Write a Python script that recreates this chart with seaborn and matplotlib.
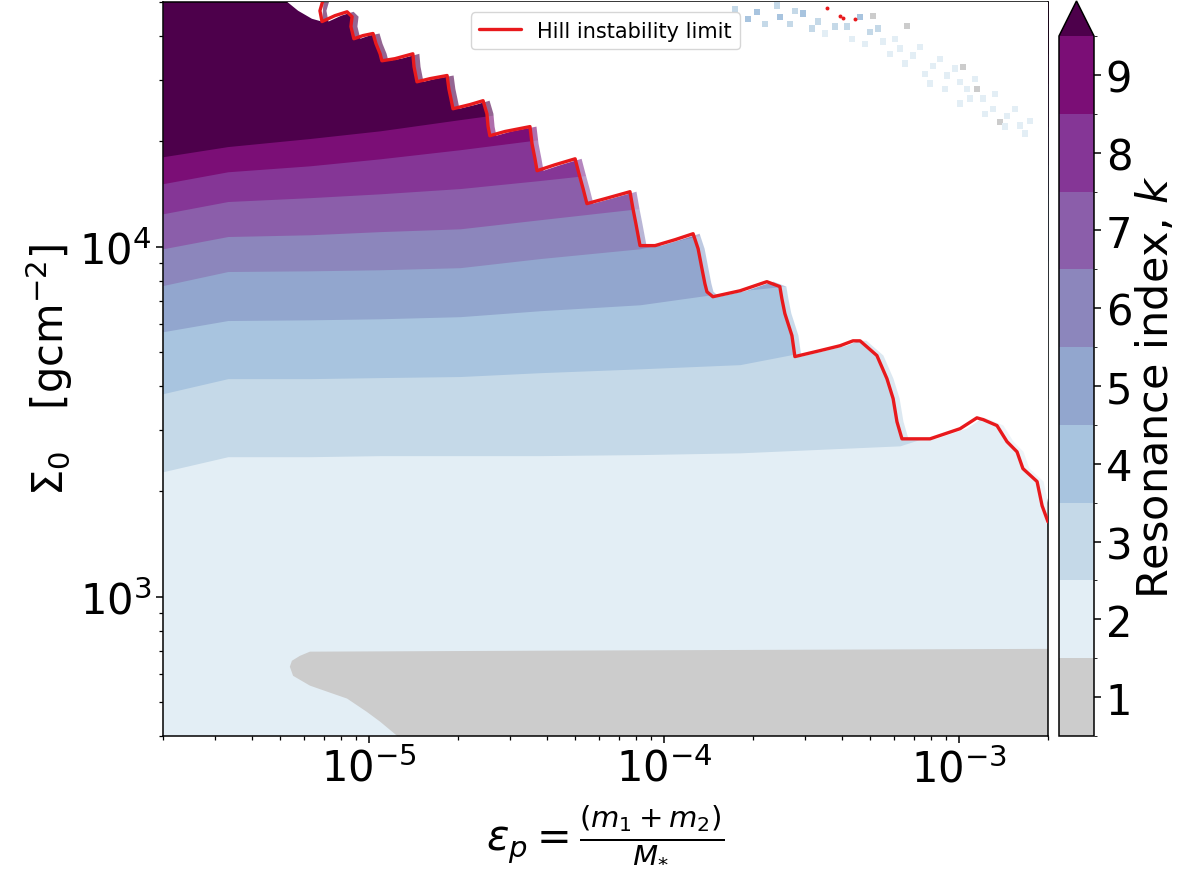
import numpy as np
import matplotlib
matplotlib.use("Agg")
import matplotlib.pyplot as plt
import seaborn as sns
from matplotlib.colors import ListedColormap, BoundaryNorm
from matplotlib.cm import ScalarMappable

# ---------------- data ----------------
k_values = [1, 2, 3, 4, 5, 6, 7, 8, 9]
k_colors = ["#cccccc", "#e3eef5", "#c5d9e8", "#a8c4df", "#92a6ce",
            "#8c86bc", "#8b5eaa", "#853696", "#7b0e76"]
over_color = "#4d004b"

# eps nodes (log10) at which band boundaries were read
node_log_eps = [-5.699, -5.479, -5.201, -4.963, -4.692, -4.421, -4.082, -3.743, -3.201, -2.699]
# lower edge (log10 Sigma0) of band k
edge_k3 = [3.357, 3.400, 3.400, 3.403, 3.403, 3.403, 3.406, 3.411, 3.431, 3.566]
edge_k4 = [3.580, 3.623, 3.623, 3.626, 3.629, 3.640, 3.651, 3.663, 3.751, 3.823]
edge_k5 = [3.757, 3.789, 3.791, 3.794, 3.800, 3.817, 3.834, 3.874, 3.920, 3.960]
edge_k6 = [3.889, 3.929, 3.931, 3.934, 3.940, 3.966, 3.994, 4.057, 4.109, 4.151]
edge_k7 = [3.994, 4.029, 4.034, 4.043, 4.051, 4.077, 4.109, 4.140, 4.189, 4.234]
edge_k8 = [4.094, 4.129, 4.140, 4.151, 4.166, 4.189, 4.220, 4.251, 4.300, 4.343]
edge_k9 = [4.180, 4.214, 4.231, 4.251, 4.277, 4.306, 4.340, 4.374, 4.423, 4.466]
edge_over = [4.257, 4.286, 4.309, 4.331, 4.363, 4.394, 4.429, 4.463, 4.509, 4.551]

# k = 1 region (log10 eps, log10 Sigma0) outline
k1_log_eps = [-2.699, -4.363, -5.201, -5.235, -5.262, -5.269, -5.258, -5.201,
              -5.123, -5.075, -5.008, -4.963, -4.906, -4.85, -2.60]
k1_log_sigma = [2.851, 2.846, 2.843, 2.831, 2.817, 2.800, 2.774, 2.746,
                2.723, 2.709, 2.671, 2.643, 2.603, 2.55, 2.55]

# Hill instability limit (log10 eps, log10 Sigma0)
hill_log_eps = [-5.157, -5.167, -5.160, -5.116, -5.075, -5.058, -5.062, -5.052, -5.021, -4.987,
                -4.977, -4.963, -4.957, -4.913, -4.852, -4.848, -4.838, -4.794, -4.736, -4.730,
                -4.723, -4.716, -4.658, -4.614, -4.601, -4.597, -4.591, -4.540, -4.455, -4.448,
                -4.438, -4.431, -4.370, -4.302, -4.289, -4.275, -4.262, -4.201, -4.116, -4.106,
                -4.096, -4.082, -4.031, -3.963, -3.902, -3.885, -3.872, -3.862, -3.855, -3.835,
                -3.743, -3.652, -3.608, -3.601, -3.591, -3.567, -3.557, -3.472, -3.404, -3.360,
                -3.336, -3.279, -3.245, -3.224, -3.211, -3.194, -3.099, -2.997, -2.940, -2.919,
                -2.872, -2.838, -2.804, -2.784, -2.736, -2.719, -2.699]
hill_log_sigma = [4.703, 4.674, 4.643, 4.660, 4.671, 4.657, 4.629, 4.594, 4.603, 4.609,
                  4.580, 4.551, 4.531, 4.537, 4.551, 4.514, 4.471, 4.480, 4.489, 4.451,
                  4.423, 4.394, 4.406, 4.417, 4.380, 4.343, 4.317, 4.329, 4.343, 4.294,
                  4.251, 4.217, 4.234, 4.251, 4.209, 4.166, 4.123, 4.137, 4.157, 4.109,
                  4.066, 4.003, 4.003, 4.020, 4.037, 3.994, 3.937, 3.894, 3.871, 3.857,
                  3.874, 3.900, 3.886, 3.851, 3.809, 3.746, 3.686, 3.703, 3.717, 3.731,
                  3.731, 3.689, 3.623, 3.566, 3.500, 3.451, 3.451, 3.480, 3.511, 3.506,
                  3.489, 3.443, 3.414, 3.366, 3.329, 3.260, 3.214]
# the stable (coloured) region reaches slightly beyond the Hill line (log10 eps offset)
fringe_log_shift = 0.022

# white patch next to the top of the Hill line
patch_log_eps = [-5.292, -5.150, -5.160, -5.194, -5.241, -5.292]
patch_log_sigma = [4.750, 4.750, 4.643, 4.651, 4.674, 4.709]

# isolated Hill-limit fragments at the top
hill_dot_log_eps = [-3.448, -3.404, -3.394, -3.353]
hill_dot_log_sigma = [4.683, 4.660, 4.654, 4.651]

# scattered cells in the unstable region
cell_log_eps = [-3.685, -3.618, -3.574, -3.530, -3.479, -3.380, -3.336, -3.302, -3.258, -3.201,
                -3.157, -3.089, -3.041, -2.997, -2.974, -2.919, -2.885, -2.838, -2.794,
                -3.292, -3.177, -2.987, -2.940, -2.862,
                -3.760, -3.716, -3.658, -3.608, -3.557, -3.499, -3.455, -3.421, -3.363, -3.319,
                -3.275, -3.235, -3.218, -3.184, -3.133, -3.116, -3.065, -3.048, -3.014, -2.963,
                -2.947, -2.913, -2.879, -2.845, -2.811, -2.777, -2.760, -2.997, -3.099]
cell_log_sigma = [4.671, 4.689, 4.637, 4.666, 4.643, 4.629, 4.657, 4.614, 4.586, 4.566,
                  4.546, 4.517, 4.489, 4.471, 4.451, 4.423, 4.394, 4.374, 4.346,
                  4.660, 4.631, 4.514, 4.451, 4.357,
                  4.680, 4.651, 4.637, 4.657, 4.674, 4.623, 4.609, 4.629, 4.594, 4.580,
                  4.623, 4.551, 4.594, 4.523, 4.571, 4.494, 4.537, 4.451, 4.509, 4.423,
                  4.480, 4.380, 4.437, 4.343, 4.394, 4.323, 4.360, 4.409, 4.466]
cell_k = [4, 3, 3, 4, 3, 3, 4, 3, 2, 2,
          2, 2, 2, 2, 2, 2, 2, 2, 2,
          1, 1, 1, 1, 1,
          3, 4, 3, 4, 3, 3, 2, 3, 2, 2,
          3, 2, 2, 2, 2, 2, 2, 2, 2, 2,
          2, 2, 2, 2, 2, 2, 2, 2, 2]

x_lim = (2e-6, 2e-3)
y_lim = (400, 5.0e4)

# ---------------- figure ----------------
sns.set_style("ticks")
plt.rcParams.update({
    "font.family": ["DejaVu Sans"],
    "axes.edgecolor": "black",
    "axes.labelcolor": "black",
    "text.color": "black",
    "xtick.color": "black",
    "ytick.color": "black",
    "axes.linewidth": 1.1,
})

fig = plt.figure(figsize=(11.92, 8.70), dpi=100)
ax = fig.add_axes([163 / 1192, 1 - 737 / 870, 885 / 1192, 734 / 870])
cax = fig.add_axes([1059 / 1192, 1 - 737 / 870, 35 / 1192, 735 / 870])

ax.set_xscale("log")
ax.set_yscale("log")

eps_nodes = 10 ** np.array(node_log_eps)
low_floor = np.full(len(eps_nodes), 100.0)
lower_edges = [low_floor] + [10 ** np.array(e) for e in
                             (edge_k3, edge_k4, edge_k5, edge_k6, edge_k7, edge_k8, edge_k9, edge_over)]
band_colors = k_colors[1:] + [over_color]
top_val = np.full(len(eps_nodes), 1e5)
for lo, c in zip(lower_edges, band_colors):
    ax.fill_between(eps_nodes, lo, top_val, color=c, linewidth=0, zorder=1)

# k = 1 region
ax.fill(10 ** np.array(k1_log_eps), 10 ** np.array(k1_log_sigma),
        color=k_colors[0], linewidth=0, zorder=2)

# unstable region (white), with a faint fringe just beyond the Hill line
hx = list(10 ** np.array(hill_log_eps))
hy = list(10 ** np.array(hill_log_sigma))
fx = list(10 ** (np.array(hill_log_eps) + fringe_log_shift))
ax.fill(fx + [3e-3, 3e-3, fx[0]], hy + [hy[-1], 1e5, 1e5],
        color="white", linewidth=0, zorder=3)
ax.fill(hx + [3e-3, 3e-3, hx[0]], hy + [hy[-1], 1e5, 1e5],
        color="white", alpha=0.4, linewidth=0, zorder=3)
ax.fill(10 ** np.array(patch_log_eps), 10 ** np.array(patch_log_sigma),
        color="white", linewidth=0, zorder=3)

# scattered cells
pal = {k: c for k, c in zip(k_values, k_colors)}
sns.scatterplot(x=10 ** np.array(cell_log_eps), y=10 ** np.array(cell_log_sigma),
                hue=cell_k, palette=pal, marker="s", s=20, linewidth=0,
                legend=False, ax=ax, zorder=4)

# Hill instability limit
sns.lineplot(x=hx, y=hy, sort=False, estimator=None, color="#e8191c",
             linewidth=2.4, label="Hill instability limit", ax=ax, zorder=5)
ax.scatter(10 ** np.array(hill_dot_log_eps), 10 ** np.array(hill_dot_log_sigma),
           color="#e8191c", s=8, linewidth=0, zorder=5)

ax.set_xlim(*x_lim)
ax.set_ylim(*y_lim)

ax.tick_params(axis="both", which="major", labelsize=30, length=5, width=1.1)
ax.tick_params(axis="both", which="minor", length=3, width=0.9)
ax.set_xlabel(r"$\varepsilon_p = \frac{(m_1 + m_2)}{M_{*}}$", fontsize=30, labelpad=8)
ax.set_ylabel(r"$\Sigma_0 \quad [\mathrm{gcm}^{-2}]$", fontsize=30, labelpad=3)

leg = ax.legend(loc="upper center", fontsize=15, frameon=True)
leg.get_frame().set_edgecolor("#cccccc")

# colorbar
cmap = ListedColormap(k_colors)
cmap.set_over(over_color)
norm = BoundaryNorm(np.arange(0.5, 10.0, 1.0), cmap.N)
sm = ScalarMappable(norm=norm, cmap=cmap)
cb = fig.colorbar(sm, cax=cax, extend="max", ticks=k_values)
cb.ax.tick_params(labelsize=30, length=5, width=1.1)
cb.set_label("Resonance index, $k$", fontsize=31, labelpad=2)
cb.outline.set_linewidth(1.1)

fig.savefig("out.png", dpi=100)
